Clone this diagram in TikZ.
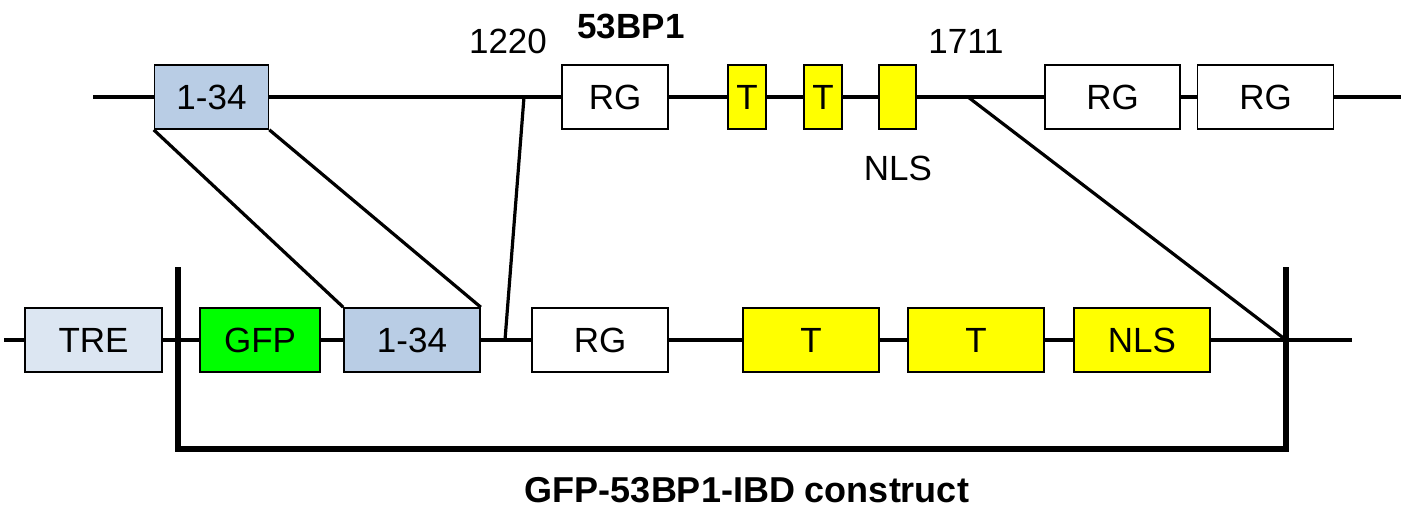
\documentclass[tikz,border=0pt]{standalone}
\usepackage{fontspec}
\setmainfont{Liberation Sans}
\definecolor{steel}{HTML}{B9CDE5}
\definecolor{palesteel}{HTML}{DCE6F2}
\definecolor{gfpgreen}{HTML}{00FF00}
\definecolor{tyellow}{HTML}{FFFF00}
\begin{document}
\begin{tikzpicture}[x=1pt,y=-1pt,
  lbl/.style={font=\fontsize{35}{42}\selectfont, inner sep=0pt},
  dom/.style={draw=black, line width=1.6pt, minimum height=64pt, inner sep=0pt, lbl},
  backbone/.style={line width=3.8pt},
  link/.style={line width=3.2pt},
  brk/.style={line width=5.5pt, line join=miter}]
\useasboundingbox (0,0) rectangle (1404,520);
% top row
\coordinate (ts) at (93,97);
\coordinate (te) at (1401,97);
\node[dom, fill=steel, minimum width=114pt] (a1) at (211.5,97) {1-34};
\node[dom, fill=white, minimum width=106pt] (rg1) at (615,97) {RG};
\node[dom, fill=tyellow, minimum width=38pt] (t1) at (747,97) {T};
\node[dom, fill=tyellow, minimum width=38pt] (t2) at (823,97) {T};
\node[dom, fill=tyellow, minimum width=37pt] (nls1) at (897.5,97) {};
\node[dom, fill=white, minimum width=135pt] (rg2) at (1112.5,97) {RG};
\node[dom, fill=white, minimum width=136pt] (rg3) at (1265.5,97) {RG};
\coordinate (p1220) at (524,97);
\coordinate (p1711) at (968,97);
\draw[backbone] (ts) -- (a1.west) (a1.east) -- (rg1.west) (rg1.east) -- (t1.west)
  (t1.east) -- (t2.west) (t2.east) -- (nls1.west) (nls1.east) -- (rg2.west)
  (rg2.east) -- (rg3.west) (rg3.east) -- (te);
\node[lbl] (n1220) at (508,41) {1220};
\node[lbl, font=\fontsize{35}{42}\selectfont\bfseries] (title1) at (631,26) {53BP1};
\node[lbl] (nlslbl) at (898,168) {NLS};
\node[lbl] (n1711) at (966,41) {1711};
% bottom row
\coordinate (bs) at (4,340);
\coordinate (be) at (1352,340);
\node[dom, fill=palesteel, minimum width=137pt] (tre) at (93.5,340) {TRE};
\node[dom, fill=gfpgreen, minimum width=120pt] (gfp) at (260,340) {GFP};
\node[dom, fill=steel, minimum width=136pt] (b134) at (412,340) {1-34};
\node[dom, fill=white, minimum width=136pt] (brg) at (600,340) {RG};
\node[dom, fill=tyellow, minimum width=136pt] (bt1) at (811,340) {T};
\node[dom, fill=tyellow, minimum width=136pt] (bt2) at (976,340) {T};
\node[dom, fill=tyellow, minimum width=136pt] (bnls) at (1142,340) {NLS};
\coordinate (q1220) at (505,340);
\coordinate (q1711) at (1286,340);
\draw[backbone] (bs) -- (tre.west) (tre.east) -- (gfp.west) (gfp.east) -- (b134.west)
  (b134.east) -- (brg.west) (brg.east) -- (bt1.west) (bt1.east) -- (bt2.west)
  (bt2.east) -- (bnls.west) (bnls.east) -- (be);
% mapping lines
\draw[link] (a1.south west) -- (b134.north west);
\draw[link] (a1.south east) -- (b134.north east);
\draw[link] (p1220) -- (q1220);
\draw[link] (p1711) -- (q1711);
% bracket
\coordinate (bl) at (178,267);
\coordinate (br) at (1286,267);
\draw[brk] (bl) -- (178,449) -- (1286,449) -- (br);
\node[lbl, font=\fontsize{36}{43}\selectfont\bfseries] (title2) at (747,490) {GFP-53BP1-IBD construct};
\end{tikzpicture}
\end{document}
